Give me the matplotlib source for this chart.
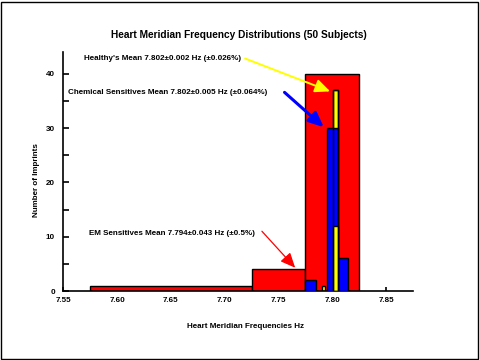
import numpy as np
import matplotlib
matplotlib.use('Agg')
from matplotlib import pyplot as plt
from matplotlib.patches import Rectangle

plt.rcParams['font.family'] = ['Liberation Sans', 'DejaVu Sans']
plt.rcParams['font.weight'] = 'bold'

# EM sensitives (red), bins given by left edge / width
em_left = [7.575, 7.725, 7.775]
em_width = [0.15, 0.05, 0.05]
em_counts = [1, 4, 40]

# chemical sensitives (blue)
chem_left = [7.775, 7.795, 7.805]
chem_width = [0.01, 0.01, 0.01]
chem_counts = [2, 30, 6]

# healthy (yellow)
healthy_left = [7.7905, 7.8005]
healthy_width = [0.003, 0.0045]
healthy_counts = [1, 37]
healthy_front = 12   # lower part of the tall yellow bar shown in front of blue

xticks = [7.55, 7.60, 7.65, 7.70, 7.75, 7.80, 7.85]
yticks = [0, 10, 20, 30, 40]

notes = [
    ("Healthy's Mean 7.802\u00b10.002 Hz (\u00b10.026%)", (7.5693, 42.75), (7.719, 42.8), (7.798, 36.75), 'yellow', 1.4),
    ("Chemical Sensitives Mean 7.802\u00b10.005 Hz (\u00b10.064%)", (7.5544, 36.57), (7.7556, 36.57), (7.7921, 30.15), 'blue', 2.2),
    ("EM Sensitives Mean 7.794\u00b10.043 Hz (\u00b10.5%)", (7.5742, 10.59), (7.7346, 11.0), (7.7655, 4.28), 'red', 0.9),
]


def main():
    fig = plt.figure(figsize=(4.8, 3.6), dpi=100)
    ax = fig.add_axes([63.3 / 480, 69 / 360, (413 - 63.3) / 480, (291 - 52) / 360])

    ax.bar(em_left, em_counts, em_width, align='edge', color='red', edgecolor='black', linewidth=1, zorder=1)
    ax.bar(healthy_left, healthy_counts, healthy_width, align='edge', color='yellow', edgecolor='black', linewidth=1, zorder=2)
    ax.bar(chem_left, chem_counts, chem_width, align='edge', color='blue', edgecolor='black', linewidth=1, zorder=3)
    ax.bar(healthy_left[1], healthy_front, healthy_width[1], align='edge', color='yellow', edgecolor='black', linewidth=1, zorder=4)
    ax.bar(healthy_left[1], healthy_counts[1], healthy_width[1], align='edge', fill=False, edgecolor='black', linewidth=1, zorder=4)

    for label, txy, start, tip, col, lw in notes:
        ax.text(txy[0], txy[1], label, fontsize=5.8, fontweight='bold', ha='left', va='center', zorder=6)
        ax.annotate('', xy=tip, xytext=start,
                    arrowprops=dict(arrowstyle='-|>,head_length=0.9,head_width=0.4', color=col, lw=lw,
                                    shrinkA=0, shrinkB=0, mutation_scale=10), zorder=6)

    ax.set_xlim(7.55, 7.875)
    ax.set_ylim(0, 44)
    ax.set_xticks(xticks)
    ax.set_xticklabels(['%.2f' % t for t in xticks])
    ax.set_yticks(yticks)
    ax.set_yticks(np.arange(5, 40, 10), minor=True)
    ax.tick_params(axis='both', which='both', direction='in', labelsize=5.8, width=1.2)
    ax.tick_params(axis='y', which='major', length=4, pad=6)
    ax.tick_params(axis='y', which='minor', length=4)
    ax.tick_params(axis='x', which='major', length=3, pad=4)
    for lab in ax.get_xticklabels() + ax.get_yticklabels():
        lab.set_fontweight('bold')
    ax.set_axisbelow(True)

    ax.spines['top'].set_visible(False)
    ax.spines['right'].set_visible(False)
    ax.spines['left'].set_linewidth(1.2)
    ax.spines['bottom'].set_linewidth(1.2)

    fig.text(239 / 480, 1 - 35 / 360, 'Heart Meridian Frequency Distributions (50 Subjects)',
             ha='center', va='center', fontsize=7.3, fontweight='bold')
    fig.text(246 / 480, 1 - 327 / 360, 'Heart Meridian Frequencies Hz',
             ha='center', va='center', fontsize=5.8, fontweight='bold')
    fig.text(37 / 480, 1 - 180 / 360, 'Number of Imprints', rotation=90,
             ha='center', va='center', fontsize=5.8, fontweight='bold')

    fig.patches.append(Rectangle((0.002, 0.003), 0.994, 0.992, transform=fig.transFigure,
                                 fill=False, edgecolor='black', linewidth=1))

    fig.savefig('out.png', dpi=100)


if __name__ == '__main__':
    main()
